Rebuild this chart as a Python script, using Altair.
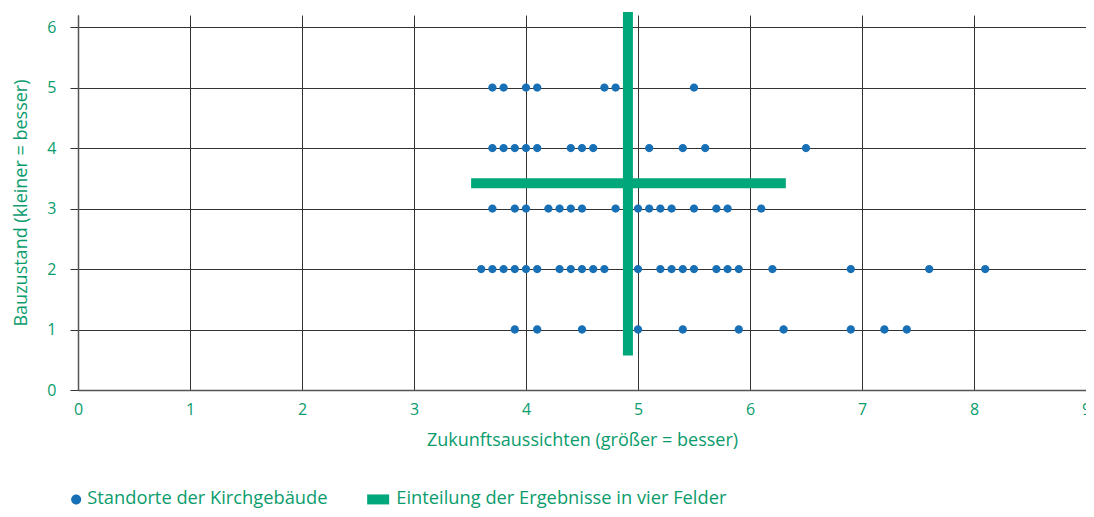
import altair as alt
import pandas as pd

# --- data ---
row5_x = [3.7, 3.8, 4.0, 4.1, 4.7, 4.8, 5.5]
row4_x = [3.7, 3.8, 3.9, 4.0, 4.1, 4.4, 4.5, 4.6, 5.1, 5.4, 5.6, 6.5]
row3_x = [3.7, 3.9, 4.0, 4.2, 4.3, 4.4, 4.5, 4.8, 5.0, 5.1, 5.2, 5.3, 5.5, 5.7, 5.8, 6.1]
row2_x = [3.6, 3.7, 3.8, 3.9, 4.0, 4.1, 4.3, 4.4, 4.5, 4.6, 4.7, 5.0, 5.2, 5.3, 5.4,
          5.5, 5.7, 5.8, 5.9, 6.2, 6.9, 7.6, 8.1]
row1_x = [3.9, 4.1, 4.5, 5.0, 5.4, 5.9, 6.3, 6.9, 7.2, 7.4]
row_levels = [5, 4, 3, 2, 1]

# dividing cross ("Einteilung der Ergebnisse in vier Felder")
cross_x = [4.91, 3.51]
cross_x2 = [4.91, 6.32]
cross_y = [0.57, 3.42]
cross_y2 = [6.25, 3.42]

series_names = ["Standorte der Kirchgebäude", "Einteilung der Ergebnisse in vier Felder"]
x_ticks = list(range(0, 10))
y_ticks = list(range(0, 7))

BLUE = "#176fb6"
GREEN = "#00a77a"
TEXT_GREEN = "#0a9c6c"
GRID = "#333333"
FONT = "Open Sans"

rows = []
for lvl, xs in zip(row_levels, [row5_x, row4_x, row3_x, row2_x, row1_x]):
    for v in xs:
        rows.append({"x": v, "y": lvl, "series": series_names[0]})
points_df = pd.DataFrame(rows)

cross_df = pd.DataFrame({"x": cross_x, "x2": cross_x2, "y": cross_y, "y2": cross_y2})

# symbol shapes (unit box -1..1 maps to sqrt(size) pixels)
circle_path = "M0,-0.714A0.714,0.714 0 1,1 0,0.714A0.714,0.714 0 1,1 0,-0.714Z"
rect_path = "M-2.57,-0.714H0.571V0.714H-2.57Z"

x_scale = alt.Scale(domain=[0, 9], nice=False, zero=False)
y_scale = alt.Scale(domain=[0, 6.2], nice=False, zero=False)

x_axis = alt.Axis(values=x_ticks, title="Zukunftsaussichten (größer = besser)",
                  grid=True, ticks=False, labelPadding=11, titlePadding=14,
                  labelFlush=False, format="d")
y_axis = alt.Axis(values=y_ticks, title="Bauzustand (kleiner = besser)",
                  grid=True, ticks=True, tickSize=8, labelPadding=14,
                  titlePadding=16, format="d")

legend = alt.Legend(title=None, orient="none", direction="horizontal",
                    legendX=-11, legendY=475, symbolSize=196,
                    symbolStrokeWidth=0, symbolOpacity=1,
                    labelFontSize=18.3, labelColor=TEXT_GREEN, labelLimit=500,
                    labelFont=FONT, columnPadding=39, labelOffset=2)

points = alt.Chart(points_df).mark_point(filled=True, size=135, opacity=1, strokeWidth=0).encode(
    x=alt.X("x:Q", scale=x_scale, axis=x_axis),
    y=alt.Y("y:Q", scale=y_scale, axis=y_axis),
    color=alt.Color("series:N", scale=alt.Scale(domain=series_names, range=[BLUE, GREEN]),
                    legend=legend),
    shape=alt.Shape("series:N", scale=alt.Scale(domain=series_names, range=[circle_path, rect_path]),
                    legend=legend),
)

cross = alt.Chart(cross_df).mark_rule(color=GREEN, strokeWidth=10, strokeCap="butt").encode(
    x=alt.X("x:Q", scale=x_scale),
    x2="x2:Q",
    y=alt.Y("y:Q", scale=y_scale),
    y2="y2:Q",
)

chart = alt.layer(cross, points).properties(
    width=1008,
    height=375,
    autosize=alt.AutoSizeParams(type="none"),
    padding={"left": 70, "top": 7, "right": 0, "bottom": 120},
).configure_view(
    stroke=None
).configure_axis(
    gridColor=GRID, gridWidth=1, gridOpacity=1,
    domainColor="#555555", domainWidth=1.5,
    tickColor=GRID, tickWidth=1,
    labelColor=TEXT_GREEN, labelFontSize=16, labelFont=FONT,
    titleColor=TEXT_GREEN, titleFontSize=18, titleFont=FONT, titleFontWeight="normal",
)

chart.save("out.html", embed_options={"renderer": "svg", "actions": False})
